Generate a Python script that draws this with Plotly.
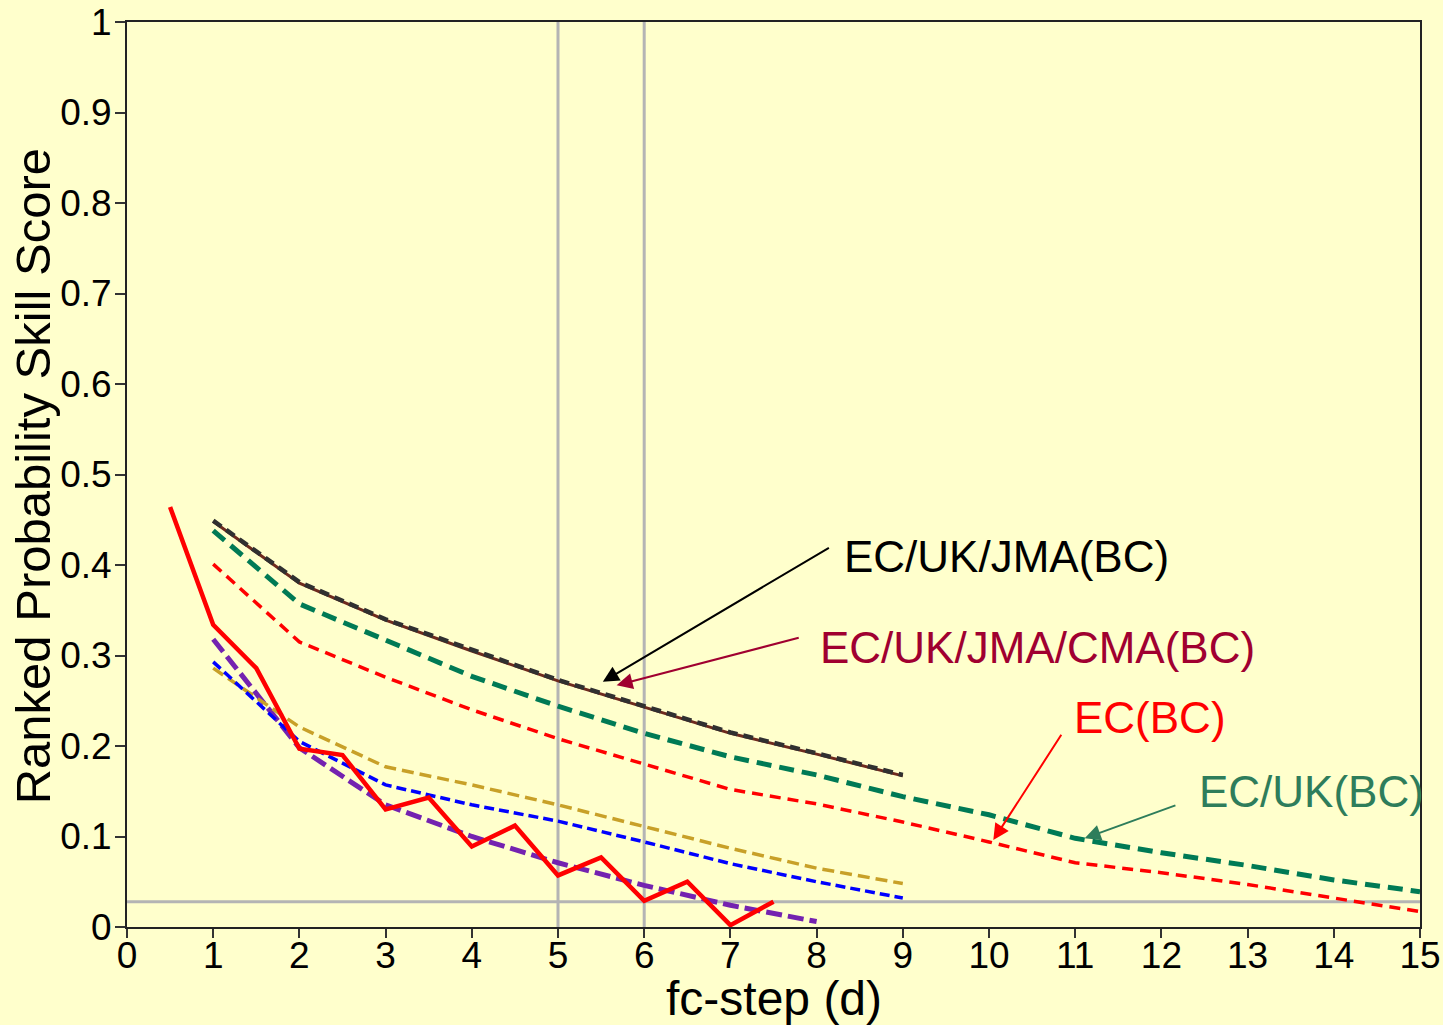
import plotly.graph_objects as go

# ---- data ----
x_raw = [0.5, 1, 1.5, 2, 2.5, 3, 3.5, 4, 4.5, 5, 5.5, 6, 6.5, 7, 7.5]
ec_raw = [0.464, 0.334, 0.286, 0.197, 0.190, 0.130, 0.143, 0.089, 0.112, 0.057, 0.077, 0.029, 0.050, 0.002, 0.028]

x9 = [1, 2, 3, 4, 5, 6, 7, 8, 9]
x8 = [1, 2, 3, 4, 5, 6, 7, 8]
x15 = [1, 2, 3, 4, 5, 6, 7, 8, 9, 10, 11, 12, 13, 14, 15]

purple = [0.318, 0.198, 0.135, 0.100, 0.071, 0.046, 0.024, 0.006]
blue = [0.293, 0.205, 0.157, 0.135, 0.117, 0.094, 0.070, 0.050, 0.032]
gold = [0.286, 0.221, 0.177, 0.157, 0.135, 0.111, 0.087, 0.065, 0.048]
ec_bc = [0.401, 0.315, 0.276, 0.240, 0.208, 0.180, 0.152, 0.136, 0.116, 0.094, 0.071, 0.060, 0.047, 0.032, 0.017]
ecuk_bc = [0.438, 0.357, 0.317, 0.277, 0.244, 0.214, 0.188, 0.168, 0.144, 0.124, 0.098, 0.082, 0.068, 0.052, 0.039]
ecukjma_bc = [0.449, 0.381, 0.340, 0.306, 0.273, 0.244, 0.215, 0.192, 0.168]
ecukjmacma_bc = [0.448, 0.380, 0.339, 0.305, 0.272, 0.243, 0.214, 0.191, 0.167]

x_ticks = list(range(0, 16))
y_ticks = [0, 0.1, 0.2, 0.3, 0.4, 0.5, 0.6, 0.7, 0.8, 0.9, 1]
y_tick_text = ["0", "0.1", "0.2", "0.3", "0.4", "0.5", "0.6", "0.7", "0.8", "0.9", "1"]

BG = "#FFFFCC"
FONT = "Liberation Sans, Arial, sans-serif"

fig = go.Figure()

def add(x, y, color, width, dash):
    fig.add_trace(go.Scatter(x=x, y=y, mode="lines",
                             line=dict(color=color, width=width, dash=dash),
                             showlegend=False, hoverinfo="skip"))

add(x8, purple, "#7422B0", 5, "16px,6px")
add(x9, gold, "#C8A028", 3.5, "12px,6px")
add(x9, blue, "#0000FF", 3.5, "10px,5px")
add(x15, ec_bc, "#FF0000", 3.5, "11px,7px")
add(x15, ecuk_bc, "#007A55", 5, "15px,8px")
add(x9, ecukjmacma_bc, "#6E2A1E", 3, "solid")
add(x9, ecukjma_bc, "#303030", 4.5, "10px,6px")
add(x_raw, ec_raw, "#FF0000", 4.5, "solid")

# reference lines
shapes = []
for xv in [5, 6]:
    shapes.append(dict(type="line", xref="x", yref="y", x0=xv, x1=xv, y0=0, y1=1,
                       line=dict(color="#B4B4B4", width=3), layer="below"))
shapes.append(dict(type="line", xref="x", yref="y", x0=0, x1=15, y0=0.028, y1=0.028,
                   line=dict(color="#B4B4B4", width=3), layer="below"))

ann = []
# labels
ann.append(dict(x=8.29, y=0.409, text="EC/UK/JMA(BC)", showarrow=False, xanchor="left",
                yanchor="middle", font=dict(family=FONT, size=44, color="#000000")))
ann.append(dict(x=8.02, y=0.309, text="EC/UK/JMA/CMA(BC)", showarrow=False, xanchor="left",
                yanchor="middle", font=dict(family=FONT, size=44, color="#A00030")))
ann.append(dict(x=10.96, y=0.232, text="EC(BC)", showarrow=False, xanchor="left",
                yanchor="middle", font=dict(family=FONT, size=44, color="#FF0000")))
ann.append(dict(x=12.41, y=0.150, text="EC/UK(BC)", showarrow=False, xanchor="left",
                yanchor="middle", font=dict(family=FONT, size=44, color="#2E7D5B")))
# arrows
def arrow(tx, ty, sx, sy, color, w):
    ann.append(dict(x=tx, y=ty, ax=sx, ay=sy, xref="x", yref="y", axref="x", ayref="y",
                    text="", showarrow=True, arrowhead=2, arrowsize=1.6, arrowwidth=w,
                    arrowcolor=color))
arrow(5.52, 0.271, 8.16, 0.420, "#000000", 2)
arrow(5.68, 0.267, 7.81, 0.320, "#A00030", 2)
arrow(10.05, 0.096, 10.85, 0.214, "#FF0000", 2)
arrow(11.11, 0.098, 12.18, 0.135, "#2E7D5B", 2)

# axis titles
ann.append(dict(xref="paper", yref="paper", x=-0.0727, y=0.498, text="Ranked Probability Skill Score",
                textangle=-90, showarrow=False, xanchor="center", yanchor="middle",
                font=dict(family=FONT, size=49, color="#000000")))
ann.append(dict(xref="x", yref="paper", x=7.5, y=-0.0795, text="fc-step (d)",
                showarrow=False, xanchor="center", yanchor="middle",
                font=dict(family=FONT, size=48, color="#000000")))

fig.update_layout(
    width=1443, height=1025,
    margin=dict(l=127, r=23, t=22, b=98, autoexpand=False),
    paper_bgcolor=BG, plot_bgcolor=BG,
    shapes=shapes, annotations=ann,
    font=dict(family=FONT, color="#000000"),
)
fig.update_xaxes(range=[0, 15], tickvals=x_ticks, ticks="outside", ticklen=9, tickwidth=1.5,
                 tickcolor="#333333", showgrid=False, zeroline=False, showline=True,
                 linecolor="#222222", linewidth=2, mirror=True, ticklabelstandoff=-14,
                 tickfont=dict(family=FONT, size=37, color="#000000"))
fig.update_yaxes(range=[0, 1], tickvals=y_ticks, ticktext=y_tick_text, ticks="outside",
                 ticklen=10, tickwidth=1.5, tickcolor="#333333", showgrid=False, zeroline=False,
                 showline=True, linecolor="#222222", linewidth=2, mirror=True, ticklabelstandoff=-4,
                 tickfont=dict(family=FONT, size=37, color="#000000"))

fig.write_html("out.html")
